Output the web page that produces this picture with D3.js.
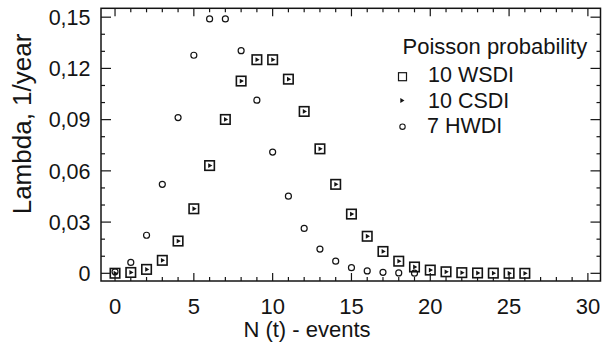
<!DOCTYPE html>
<html><head><meta charset="utf-8">
<script src="https://cdn.jsdelivr.net/npm/d3@7"></script>
<style>
html,body{margin:0;padding:0;background:#fff;}
svg{display:block;font-family:"Liberation Sans",Arial,sans-serif;}
</style></head>
<body><svg id="c" width="602" height="344"></svg>
<script>
// Data
const nWSDI = [0,1,2,3,4,5,6,7,8,9,10,11,12,13,14,15,16,17,18,19,20,21,22,23,24,25,26];
const wsdi  = [0.00005,0.0005,0.0023,0.0076,0.0189,0.0378,0.0631,0.0901,0.1126,0.1251,0.1251,0.1137,0.0948,0.0729,0.0521,0.0347,0.0217,0.0128,0.0071,0.0037,0.0019,0.0009,0.0004,0.0002,0.0001,0.00004,0.00001];
const csdi  = [0.00005,0.0005,0.0023,0.0076,0.0189,0.0378,0.0631,0.0901,0.1126,0.1251,0.1251,0.1137,0.0948,0.0729,0.0521,0.0347,0.0217,0.0128,0.0071,0.0037,0.0019,0.0009,0.0004,0.0002,0.0001,0.00004,0.00001];
const nHWDI = [0,1,2,3,4,5,6,7,8,9,10,11,12,13,14,15,16,17,18,19];
const hwdi  = [0.0009,0.0064,0.0223,0.0521,0.0912,0.1277,0.149,0.149,0.1304,0.1014,0.071,0.0452,0.0263,0.0142,0.0071,0.0033,0.0014,0.0006,0.0002,0.0001];
const yTicks = [0,0.03,0.06,0.09,0.12,0.15];
const yTickLabels = ["0","0,03","0,06","0,09","0,12","0,15"];
const xTicks = [0,5,10,15,20,25,30];
const legendTitle = "Poisson probability";
const legendLabels = ["10 WSDI","10 CSDI","7 HWDI"];
const xTitle = "N (t) - events";
const yTitle = "Lambda, 1/year";

const ink = "#141414";
const L=101, R=600.5, T=8.3, B=281;
const x = d3.scaleLinear().domain([-0.89,30.8]).range([L,R]);
const y = d3.scaleLinear().domain([-0.0045,0.1552]).range([B,T]);
const svg = d3.select("#c");

const yMinor = d3.range(0,0.1501,0.01);
const xMinor = d3.range(0,31,1);
const major=8, minor=4;

// ticks
const tg = svg.append("g").attr("stroke",ink).attr("stroke-width",1.2);
xMinor.forEach(v=>{
  const len = (v%5===0)?major:minor;
  tg.append("line").attr("x1",x(v)).attr("x2",x(v)).attr("y1",B).attr("y2",B-len);
  tg.append("line").attr("x1",x(v)).attr("x2",x(v)).attr("y1",T).attr("y2",T+len);
});
yMinor.forEach(v=>{
  const isMaj = Math.abs(Math.round(v/0.03)*0.03 - v) < 1e-6;
  const len = isMaj?major+2:minor;
  tg.append("line").attr("x1",L).attr("x2",L+len).attr("y1",y(v)).attr("y2",y(v));
  tg.append("line").attr("x1",R).attr("x2",R-len).attr("y1",y(v)).attr("y2",y(v));
});

// frame
svg.append("rect").attr("x",L).attr("y",T).attr("width",R-L).attr("height",B-T)
  .attr("fill","none").attr("stroke",ink).attr("stroke-width",1.5);

// tick labels
svg.append("g").selectAll("text").data(yTicks).join("text")
  .attr("x",90.5).attr("y",d=>y(d)).attr("dy","0.36em").attr("text-anchor","end")
  .attr("font-size",21.5).attr("fill",ink).text((d,i)=>yTickLabels[i]);
svg.append("g").selectAll("text").data(xTicks).join("text")
  .attr("x",d=>x(d)).attr("y",313.5).attr("text-anchor","middle")
  .attr("font-size",22).attr("fill",ink).text(d=>d);

// titles
svg.append("text").attr("x",307).attr("y",337).attr("text-anchor","middle")
  .attr("font-size",22).attr("fill",ink).text(xTitle);
svg.append("text").attr("transform","translate(31,124) rotate(-90)").attr("text-anchor","middle")
  .attr("font-size",26).attr("fill",ink).text(yTitle);

// marks
const sq=9.5;
svg.append("g").selectAll("rect").data(nWSDI).join("rect")
  .attr("x",(d,i)=>x(d)-sq/2).attr("y",(d,i)=>y(wsdi[i])-sq/2)
  .attr("width",sq).attr("height",sq).attr("fill","none").attr("stroke",ink).attr("stroke-width",1.6);
const tri = d3.symbol().type(d3.symbolTriangle).size(10);
svg.append("g").selectAll("path").data(nWSDI).join("path")
  .attr("d",tri()).attr("fill",ink)
  .attr("transform",(d,i)=>`translate(${x(d)},${y(csdi[i])}) rotate(90)`);
svg.append("g").selectAll("circle").data(nHWDI).join("circle")
  .attr("cx",d=>x(d)).attr("cy",(d,i)=>y(hwdi[i])).attr("r",3)
  .attr("fill","none").attr("stroke",ink).attr("stroke-width",1.2);

// legend
const lg = svg.append("g");
lg.append("text").attr("x",402.5).attr("y",53.5).attr("font-size",22).attr("fill",ink).text(legendTitle);
const ly=[76.7,100.5,126.7];
lg.append("rect").attr("x",398.5).attr("y",ly[0]-4).attr("width",8).attr("height",8)
  .attr("fill","none").attr("stroke",ink).attr("stroke-width",1.2);
lg.append("path").attr("d",tri()).attr("fill",ink).attr("transform",`translate(401.7,${ly[1]}) rotate(90)`);
lg.append("circle").attr("cx",402.5).attr("cy",ly[2]).attr("r",2.7).attr("fill","none").attr("stroke",ink).attr("stroke-width",1.1);
const lbase=[81.7,108.3,133.3];
lg.selectAll("text.e").data(legendLabels).join("text").attr("class","e")
  .attr("x",(d,i)=>i===2?427:428).attr("y",(d,i)=>lbase[i]).attr("font-size",21.5).attr("fill",ink).text(d=>d);
</script></body></html>
